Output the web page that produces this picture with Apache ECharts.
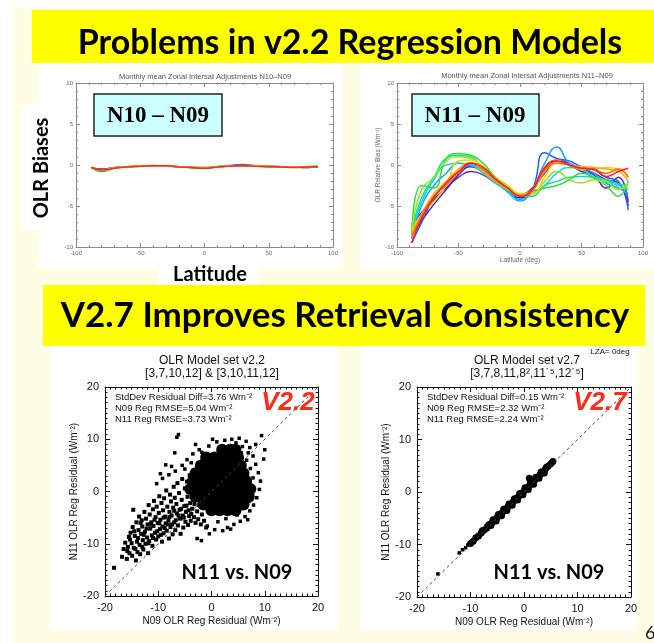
<!DOCTYPE html>
<html>
<head>
<meta charset="utf-8">
<script src="https://cdn.jsdelivr.net/npm/echarts@6/dist/echarts.min.js"></script>
<style>
html, body { margin: 0; padding: 0; background: #fff; }
#chart { width: 654px; height: 643px; }
</style>
</head>
<body>
<div id="chart"></div>
<script>
// ---- data ----
var latRange = [-100, 100];
var biasRange = [-10, 10];
var residRange = [-20, 20];
var diagLine = [-20, 20];

var latPts = [-88, -80, -70, -60, -50, -40, -30, -20, -10, 0, 10, 20, 30, 40, 50, 60, 70, 80, 88];

// N10 - N09 (all close to zero)
var n10Purple = [-0.3, -0.5, -0.35, -0.2, -0.15, -0.1, -0.1, -0.2, -0.3, -0.35, -0.25, -0.1, 0.0, -0.1, -0.15, -0.2, -0.25, -0.3, -0.25];
var n10Blue   = [-0.3, -0.55, -0.3, -0.2, -0.15, -0.05, -0.1, -0.2, -0.3, -0.35, -0.2, -0.05, 0.05, -0.1, -0.15, -0.2, -0.25, -0.3, -0.2];
var n10Green  = [-0.3, -0.8, -0.4, -0.2, -0.15, -0.1, -0.15, -0.2, -0.25, -0.3, -0.2, -0.1, -0.1, -0.1, -0.2, -0.2, -0.2, -0.2, -0.1];
var n10Yellow = [-0.35, -0.65, -0.35, -0.2, -0.1, -0.1, -0.15, -0.2, -0.3, -0.3, -0.2, -0.1, -0.05, -0.1, -0.15, -0.2, -0.25, -0.2, -0.15];
var n10Orange = [-0.3, -0.6, -0.35, -0.25, -0.15, -0.1, -0.1, -0.25, -0.3, -0.35, -0.2, -0.15, -0.1, -0.15, -0.2, -0.2, -0.25, -0.25, -0.2];
var n10Red    = [-0.3, -0.6, -0.4, -0.25, -0.15, -0.1, -0.1, -0.25, -0.3, -0.4, -0.25, -0.15, -0.1, -0.15, -0.2, -0.25, -0.3, -0.25, -0.2];

// N11 - N09 (12 monthly curves)
var n11Lines = [
  [-7.2, -5.8, -4.2, -2.8, -1.5, -0.8, -1.2, -2.2, -3.0, -3.6, -2.8, -1.0, 0.5, 0.0, -0.8, -1.2, -2.8, -1.5, -4.5],
  [-8.5, -6.8, -4.8, -3.0, -1.2, -0.2, -0.8, -2.0, -3.2, -4.0, -3.2, -0.5, 0.6, 0.2, -0.5, -1.0, -1.8, -2.2, -5.0],
  [-9.5, -7.0, -4.0, -2.2, -0.8, 0.0, -0.5, -1.8, -3.0, -4.2, -3.0, 1.5, 0.8, 0.5, -0.2, -0.6, -1.5, -2.0, -5.5],
  [-9.0, -5.0, -2.5, -1.0, 0.2, 0.0, -0.8, -2.0, -3.3, -4.4, -3.0, 0.2, 2.2, 0.2, -0.3, -1.0, -2.2, -2.8, -3.5],
  [-8.2, -4.5, -1.8, 0.0, 0.2, 0.0, -1.0, -2.2, -3.2, -4.3, -3.5, -2.5, -1.0, -0.3, -0.5, -1.5, -2.0, -2.5, -3.0],
  [-8.0, -4.0, -1.5, 0.8, 1.2, 1.0, -0.5, -1.8, -2.8, -3.8, -3.8, -2.5, -2.0, -1.5, -1.4, -1.5, -1.8, -2.3, -2.5],
  [-8.5, -2.5, -2.8, 0.8, 1.4, 1.2, 0.2, -1.5, -2.7, -3.6, -3.2, -2.8, -2.5, -1.8, -1.0, -1.6, -2.5, -3.8, -2.0],
  [-8.0, -3.0, -1.5, 0.5, 1.0, 0.8, -0.2, -1.5, -2.5, -3.5, -3.5, -2.0, -0.8, -1.8, -2.2, -1.8, -2.0, -3.0, -2.2],
  [-8.0, -6.0, -4.5, -2.5, 0.5, 0.6, -0.3, -1.8, -2.6, -3.5, -3.5, -1.5, 0.2, 0.0, -0.5, -0.5, -0.3, -0.5, -1.5],
  [-8.5, -6.0, -3.5, -2.0, -0.5, 0.3, -0.8, -2.0, -3.0, -3.6, -3.0, -0.8, 0.6, 0.0, -0.2, -0.3, -0.5, -0.8, -2.0],
  [-8.8, -6.2, -3.8, -2.5, -1.0, 0.2, -0.5, -1.8, -2.8, -3.8, -3.2, -0.6, 0.2, 0.0, -0.4, -0.6, -1.0, -0.5, -1.5],
  [-9.5, -6.5, -4.0, -2.2, -0.8, 0.2, -0.3, -1.7, -2.8, -3.8, -3.0, -0.3, 0.5, 0.0, -0.4, -0.5, -1.4, -0.8, -0.4]
];
var n11Colors = ['#6a2ca8', '#3a2ad0', '#1f5cff', '#1aa0ff', '#10d8e8', '#10e0a0',
                 '#30e030', '#9be21c', '#e6d800', '#ffa800', '#ff6a10', '#ff1e1e'];

// v2.2 scatter: dense core (drawn with large marks) and the scattered points
var v22Core = [
  [2, 8], [3.5, 8], [4.5, 8],
  [-1, 6.5], [0.5, 6.5], [2, 6.5], [3.5, 6.5], [5, 6.5],
  [-2, 5], [-0.5, 5], [1, 5], [2.5, 5], [4, 5], [5.5, 5],
  [-3, 3.5], [-1.5, 3.5], [0, 3.5], [1.5, 3.5], [3, 3.5], [4.5, 3.5], [6, 3.5],
  [-3.5, 2], [-2, 2], [-0.5, 2], [1, 2], [2.5, 2], [4, 2], [5.5, 2], [6.5, 2],
  [-4, 0.5], [-2.5, 0.5], [-1, 0.5], [0.5, 0.5], [2, 0.5], [3.5, 0.5], [5, 0.5], [6.5, 0.5], [7.3, 0.5],
  [-3, -1], [-1.5, -1], [0, -1], [1.5, -1], [3, -1], [4.5, -1], [6, -1], [7, -1],
  [-1.5, -2.5], [0, -2.5], [1.5, -2.5], [3, -2.5], [4.5, -2.5], [6, -2.5],
  [0, -3.6], [1.5, -3.6], [3, -3.6], [4.5, -3.6]
];
var v22Tail = [
  [-18.3, -14.6], [-16.8, -12.5], [-16.5, -11.0], [-16.2, -9.8], [-15.9, -12.9], [-15.7, -10.6], [-15.5, -8.7],
  [-15.4, -11.8], [-15.2, -7.9], [-15.0, -9.9], [-14.9, -12.3], [-14.8, -6.8], [-14.7, -3.5], [-14.6, -10.8],
  [-14.4, -8.5], [-14.2, -13.2], [-14.1, -5.9], [-14.0, -9.6], [-13.9, -11.6], [-13.7, -7.4], [-13.6, -4.8],
  [-13.5, -10.2], [-13.4, -12.0], [-13.2, -8.1], [-13.1, -5.5], [-13.0, -6.7], [-12.9, -9.3], [-12.8, -11.1],
  [-12.6, -3.9], [-12.5, -7.7], [-12.4, -10.0], [-12.3, -5.2], [-12.1, -8.8], [-12.0, -6.3], [-11.9, -11.8],
  [-11.8, -2.6], [-11.7, -9.5], [-11.6, -4.4], [-11.5, -7.1], [-11.3, -5.9], [-11.2, -8.4], [-11.1, -10.4],
  [-11.0, -3.4], [-10.9, -6.6], [-10.8, -1.8], [-10.6, -7.9], [-10.5, -4.9], [-10.4, -9.2], [-10.3, -2.9],
  [-10.1, -6.0], [-10.0, -8.6], [-9.9, -4.1], [-9.8, -0.9], [-9.7, -7.2], [-9.6, -5.4], [-9.4, -2.2],
  [-9.3, -9.6], [-9.2, -6.7], [-9.1, -3.6], [-9.0, -8.0], [-8.9, -1.3], [-8.7, -4.8], [-8.6, -6.1],
  [-8.5, 0.2], [-8.4, -7.5], [-8.3, -2.9], [-8.1, -5.5], [-8.0, -9.0], [-7.9, -3.9], [-7.8, -0.6],
  [-7.7, -6.8], [-7.6, -1.9], [-7.5, -4.6], [-7.3, -8.2], [-7.2, -3.1], [-7.1, 0.9], [-7.0, -5.9],
  [-6.9, -1.2], [-6.8, -7.4], [-6.6, -2.4], [-6.5, -4.2], [-6.4, 1.6], [-6.3, -6.5], [-6.1, -0.3],
  [-6.0, -3.5], [-5.9, -5.2], [-5.8, -8.1], [-5.6, -1.6], [-5.5, 2.4], [-5.4, -4.6], [-5.3, -6.9],
  [-5.1, -2.8], [-5.0, 0.6], [-4.9, -5.8], [-4.8, -3.9], [-4.6, 1.9], [-4.5, -1.0], [-4.4, -6.4],
  [-4.2, -4.7], [-4.1, 3.1], [-4.0, -2.2], [-3.9, -5.6], [-3.7, 0.1], [-3.6, -3.3], [-3.4, 4.0],
  [-3.3, -4.9], [-3.1, -1.5], [-3.0, -6.0], [-2.9, 2.7], [-2.7, -3.8], [-2.5, -5.3], [-2.3, -2.6],
  [-2.2, 5.2], [-2.0, -6.3], [-1.8, -4.4], [-1.6, 3.9], [-1.4, -5.6], [-1.2, 6.4], [-1.0, -6.9],
  [-15.8, -11.4], [-15.3, -9.2], [-14.5, -7.6], [-14.3, -11.0], [-13.8, -8.9], [-13.3, -6.0], [-13.0, -10.6],
  [-12.7, -8.3], [-12.2, -7.1], [-11.9, -9.9], [-11.4, -6.3], [-11.0, -8.9], [-10.7, -5.4], [-10.2, -7.6],
  [-9.8, -6.1], [-9.5, -8.3], [-9.0, -5.0], [-8.8, -7.0], [-8.2, -6.3], [-7.9, -4.9], [-7.4, -6.3],
  [-7.0, -3.7], [-6.7, -5.5], [-6.2, -4.6], [-5.7, -3.3], [-5.2, -5.0], [-4.7, -2.7], [-4.3, -3.6],
  [-3.8, -4.3], [-3.2, -2.4]
];
var v22Halo = [
  [-6.5, 10.4], [-6.2, 10.9], [3.8, 10.0], [5.2, 10.2], [9.4, 10.7], [10.0, 8.0], [6.5, 9.6], [7.2, 8.4],
  [1.0, 9.5], [-0.5, 8.7], [-2.3, 8.0], [-3.5, 7.2], [-4.6, 6.1], [-5.5, 5.0], [-6.8, 3.9], [-8.0, 3.2],
  [-9.2, 2.5], [-10.3, 1.5], [-9.6, 3.4], [-7.5, 4.8], [-3.0, 9.0], [0.2, 10.0], [2.5, 9.8], [4.6, 9.3],
  [5.8, 8.6], [6.9, 7.4], [7.8, 6.8], [8.3, 5.2], [8.8, 3.6], [9.2, 2.0], [9.0, 0.4], [8.5, -1.2],
  [7.9, -2.6], [7.2, -3.7], [6.3, -4.8], [5.4, -5.7], [4.2, -6.3], [3.0, -6.9], [2.1, -7.5], [0.6, -7.3],
  [-0.4, -8.1], [-1.9, -9.4], [-2.7, -9.0], [1.2, -5.8], [2.7, -5.2], [4.8, -4.5], [6.0, -3.2], [7.0, -1.9],
  [7.5, 0.9], [7.8, 2.6], [7.3, 4.4], [6.6, 6.0], [5.6, 7.4], [4.2, 8.5], [-1.8, 7.5], [-3.8, 5.5],
  [-5.0, 4.3], [8.3, 9.0], [9.8, 6.2], [-0.8, -6.6], [3.6, -7.2], [6.8, -5.4], [-6.9, 7.4], [-8.6, 5.1]
];

// v2.7 scatter: tight band along the 1:1 line
var v27Band = [
  [-10, -9.8], [-9.5, -9.4], [-9, -8.7], [-8.5, -8.4], [-8, -7.8], [-7.5, -7.3], [-7, -6.9], [-6.5, -6.2],
  [-6, -5.9], [-5.5, -5.3], [-5, -4.8], [-4.5, -4.4], [-4, -3.8], [-3.5, -3.3], [-3, -2.8], [-2.5, -2.4],
  [-2, -1.8], [-1.5, -1.3], [-1, -0.8], [-0.5, -0.3], [0, 0.2], [0.5, 0.7], [1, 1.2], [1.5, 1.8],
  [2, 2.3], [2.5, 2.8], [3, 3.3], [3.5, 3.8], [4, 4.4], [4.5, 4.9], [5, 5.4], [5.4, 5.8],
  [-7.8, -7.4], [-6.8, -6.5], [-5.8, -5.3], [-4.8, -4.3], [-3.8, -3.3], [-2.8, -2.3], [-1.8, -1.3],
  [-0.8, -0.3], [0.2, 0.8], [1.2, 1.8], [2.2, 2.8], [3.2, 3.8], [4.2, 4.7],
  [-6.2, -6.4], [-5.2, -5.5], [-4.2, -4.5], [-3.2, -3.5], [-2.2, -2.5], [-1.2, -1.5], [-0.2, -0.5],
  [0.8, 0.5], [1.8, 1.5], [2.8, 2.6], [3.8, 3.6], [1.0, 2.6], [1.2, 2.3]
];
var v27Sparse = [
  [-16.1, -15.6], [-12.1, -11.6], [-11.5, -11.0], [-10.9, -10.6], [-10.5, -10.1]
];

// ---- chart ----
var chart = echarts.init(document.getElementById('chart'));

var topStyle = { color: '#8a8a8a', labelColor: '#666', fontSize: 6, tick: 4, margin: 3, nameSize: 6.5 };
var scStyle = { color: '#111', labelColor: '#111', fontSize: 11, tick: 5, margin: 6, nameSize: 10 };

function mkAxis(grid, pos, range, step, minorN, st, name, gap) {
    var main = (pos === 'bottom' || pos === 'left');
    return {
        gridIndex: grid, type: 'value', position: pos,
        min: range[0], max: range[1], interval: step,
        axisLine: { show: true, onZero: false, lineStyle: { color: st.color, width: 1 } },
        axisTick: { show: true, inside: true, length: st.tick, lineStyle: { color: st.color } },
        minorTick: { show: true, splitNumber: minorN, length: st.tick * 0.5, lineStyle: { color: st.color } },
        splitLine: { show: false },
        axisLabel: { show: main, color: st.labelColor, fontSize: st.fontSize, fontFamily: 'Liberation Sans', margin: st.margin },
        name: (main && name) ? name : '',
        nameLocation: 'middle', nameGap: gap || 0,
        nameTextStyle: { color: st.labelColor, fontSize: st.nameSize, fontFamily: 'Liberation Sans' }
    };
}

var xAxes = [
    mkAxis(0, 'bottom', latRange, 50, 5, topStyle), mkAxis(0, 'top', latRange, 50, 5, topStyle),
    mkAxis(1, 'bottom', latRange, 50, 5, topStyle, 'Latitude (deg)', 10), mkAxis(1, 'top', latRange, 50, 5, topStyle),
    mkAxis(2, 'bottom', residRange, 10, 10, scStyle, 'N09 OLR Reg Residual (Wm\u207B\u00B2)', 20), mkAxis(2, 'top', residRange, 10, 10, scStyle),
    mkAxis(3, 'bottom', residRange, 10, 10, scStyle, 'N09 OLR Reg Residual (Wm\u207B\u00B2)', 20), mkAxis(3, 'top', residRange, 10, 10, scStyle)
];
var yAxes = [
    mkAxis(0, 'left', biasRange, 5, 5, topStyle), mkAxis(0, 'right', biasRange, 5, 5, topStyle),
    mkAxis(1, 'left', biasRange, 5, 5, topStyle, 'OLR Relative Bias (Wm\u207B\u00B2)', 14), mkAxis(1, 'right', biasRange, 5, 5, topStyle),
    mkAxis(2, 'left', residRange, 10, 10, scStyle, 'N11 OLR Reg Residual (Wm\u207B\u00B2)', 24), mkAxis(2, 'right', residRange, 10, 10, scStyle),
    mkAxis(3, 'left', residRange, 10, 10, scStyle, 'N11 OLR Reg Residual (Wm\u207B\u00B2)', 24), mkAxis(3, 'right', residRange, 10, 10, scStyle)
];

function pair(xs, ys) {
    return xs.map(function (x, i) { return [x, ys[i]]; });
}
function latLine(grid, vals, color) {
    return {
        type: 'line', xAxisIndex: grid * 2, yAxisIndex: grid * 2, data: pair(latPts, vals),
        smooth: true, symbol: 'none', lineStyle: { color: color, width: 1.5 }, silent: true
    };
}
function diag(grid) {
    return {
        type: 'line', xAxisIndex: grid * 2, yAxisIndex: grid * 2, data: pair(diagLine, diagLine),
        symbol: 'none', lineStyle: { color: '#444', width: 1, type: [3, 3] }, silent: true
    };
}
function dots(grid, data, size, shape) {
    return {
        type: 'scatter', xAxisIndex: grid * 2, yAxisIndex: grid * 2, data: data,
        symbol: shape || 'rect', symbolSize: size, itemStyle: { color: '#000', opacity: 1 }, silent: true
    };
}

var series = [
    latLine(0, n10Purple, '#7b2fbe'), latLine(0, n10Blue, '#2a4cff'), latLine(0, n10Green, '#22c83a'),
    latLine(0, n10Yellow, '#e8d400'), latLine(0, n10Orange, '#ff9a00'), latLine(0, n10Red, '#ff2a1a')
];
n11Lines.forEach(function (vals, i) { series.push(latLine(1, vals, n11Colors[i])); });
series.push(diag(2), dots(2, v22Core, 12, 'circle'), dots(2, v22Tail, 4), dots(2, v22Halo, 3.5));
series.push(diag(3), dots(3, v27Band, 7, 'circle'), dots(3, v27Sparse, 3.5));

function rect(x, y, w, h, fill, z, stroke) {
    return { type: 'rect', shape: { x: x, y: y, width: w, height: h }, z: z,
             style: { fill: fill, stroke: stroke || null, lineWidth: stroke ? 1.5 : 0 } };
}
function txt(x, y, s, font, color, align, rot) {
    return { type: 'text', x: x, y: y, z: 100, rotation: rot || 0,
             style: { text: s, font: font, fill: color || '#000',
                      align: align || 'center', textAlign: align || 'center',
                      verticalAlign: 'middle', textVerticalAlign: 'middle' } };
}

var graphics = [
    rect(12, 8, 642, 635, '#fefee4', -20),
    rect(32, 10, 622, 53, '#ffff00', -10),
    rect(39, 63, 304, 205, '#ffffff', -10),
    rect(20, 105, 40, 125, '#ffffff', -10),
    rect(157, 262, 103, 24, '#ffffff', -10),
    rect(360, 63, 294, 205, '#ffffff', -10),
    rect(43, 285, 602, 61, '#ffff00', -10),
    rect(50, 346, 288, 284, '#ffffff', -10),
    rect(360, 346, 276, 284, '#ffffff', -10),
    rect(94, 94, 128, 42, '#ccffff', 90, '#222'),
    rect(412, 94, 127, 42, '#ccffff', 90, '#222'),

    txt(350, 43, 'Problems in v2.2 Regression Models', 'bold 34px Lato'),
    txt(345, 316, 'V2.7 Improves Retrieval Consistency', 'bold 35px Lato'),
    txt(42, 168, 'OLR Biases', 'bold 20px Lato', '#000', 'center', Math.PI / 2),
    txt(210, 275, 'Latitude', 'bold 20px Lato'),
    txt(205, 77, 'Monthly mean Zonal Intersat Adjustments N10\u2013N09', '7.5px Liberation Sans', '#555'),
    txt(527, 76, 'Monthly mean Zonal Intersat Adjustments N11\u2013N09', '7.5px Liberation Sans', '#555'),
    txt(158, 116, 'N10 \u2013 N09', 'bold 23px Liberation Serif'),
    txt(475, 116, 'N11 \u2013 N09', 'bold 23px Liberation Serif'),

    txt(212, 361, 'OLR Model set v2.2', '12px Liberation Sans', '#111'),
    txt(212, 374, '[3,7,10,12] & [3,10,11,12]', '12px Liberation Sans', '#111'),
    txt(115, 397, 'StdDev Residual Diff=3.76 Wm\u207B\u00B2', '9.5px Liberation Sans', '#111', 'left'),
    txt(115, 408, 'N09 Reg RMSE=5.04 Wm\u207B\u00B2', '9.5px Liberation Sans', '#111', 'left'),
    txt(115, 419, 'N11 Reg RMSE=3.73 Wm\u207B\u00B2', '9.5px Liberation Sans', '#111', 'left'),
    txt(288, 403, 'V2.2', 'italic bold 26px Liberation Sans', '#ff2a1a'),
    txt(237, 573, 'N11 vs. N09', 'bold 20px Lato'),

    txt(610, 352, 'LZA= 0deg', '8px Liberation Sans', '#111'),
    txt(527, 361, 'OLR Model set v2.7', '12px Liberation Sans', '#111'),
    txt(527, 374, '[3,7,8,11,8\u00B2,11\u02D9\u2075,12\u02D9\u2075]', '12px Liberation Sans', '#111'),
    txt(427, 397, 'StdDev Residual Diff=0.15 Wm\u207B\u00B2', '9.5px Liberation Sans', '#111', 'left'),
    txt(427, 408, 'N09 Reg RMSE=2.32 Wm\u207B\u00B2', '9.5px Liberation Sans', '#111', 'left'),
    txt(427, 419, 'N11 Reg RMSE=2.24 Wm\u207B\u00B2', '9.5px Liberation Sans', '#111', 'left'),
    txt(600, 403, 'V2.7', 'italic bold 26px Liberation Sans', '#ff2a1a'),
    txt(549, 573, 'N11 vs. N09', 'bold 20px Lato'),

    txt(645, 633, '6', '18px Lato', '#222', 'left')
];

var option = {
    animation: false,
    backgroundColor: '#ffffff',
    grid: [
        { left: 76, top: 83, width: 257, height: 164, outerBoundsMode: 'none' },
        { left: 397, top: 83, width: 246, height: 164, outerBoundsMode: 'none' },
        { left: 105, top: 387, width: 213, height: 209, outerBoundsMode: 'none' },
        { left: 417, top: 387, width: 214, height: 210, outerBoundsMode: 'none' }
    ],
    xAxis: xAxes,
    yAxis: yAxes,
    series: series,
    graphic: { elements: graphics }
};

chart.setOption(option);
</script>
</body>
</html>
